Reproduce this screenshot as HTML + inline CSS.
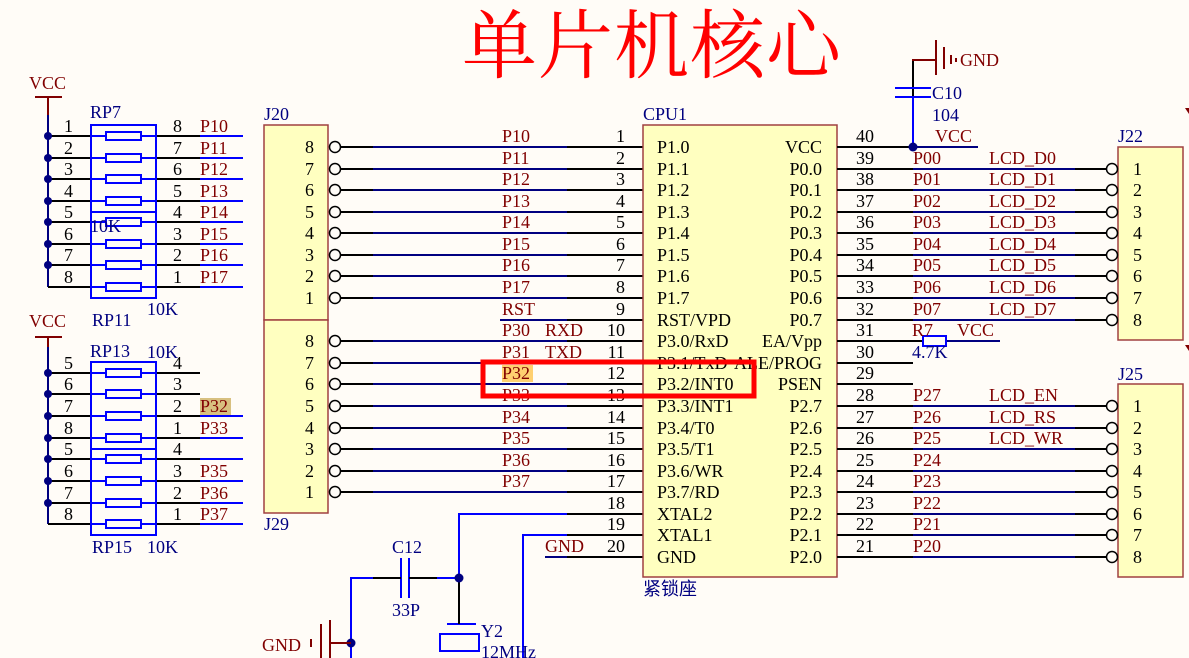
<!DOCTYPE html>
<html><head><meta charset="utf-8"><style>
html,body{margin:0;padding:0;background:#fffcf7}
svg{display:block}
text{font-family:"Liberation Serif","Noto Serif CJK SC",serif;font-size:18px}
.r{fill:#800000}.b{fill:#000080}.k{fill:#000}
.bl{stroke:#0000ff;stroke-width:2;fill:none}
.nv{stroke:#000080;stroke-width:2;fill:none}
.bk{stroke:#000;stroke-width:2;fill:none}
.rd{stroke:#800000;stroke-width:2;fill:none}
</style></head><body>
<svg width="1189" height="658" viewBox="0 0 1189 658" xmlns="http://www.w3.org/2000/svg">
<rect width="1189" height="658" fill="#fffcf7"/>
<text x="462" y="72" style="font-family:'Noto Serif CJK SC',serif;font-size:75px;fill:#ff0000;letter-spacing:1px">单片机核心</text>

<!-- RP7 network -->
<text x="29" y="89" class="r">VCC</text>
<line x1="35" y1="97" x2="62" y2="97" class="rd"/>
<line x1="48" y1="97" x2="48" y2="115" class="rd"/>
<line x1="48" y1="115" x2="48" y2="287" class="nv"/>
<g class="bk">
<line x1="48" y1="136" x2="200" y2="136"/><line x1="48" y1="158" x2="200" y2="158"/><line x1="48" y1="179" x2="200" y2="179"/><line x1="48" y1="201" x2="200" y2="201"/><line x1="48" y1="222" x2="200" y2="222"/><line x1="48" y1="244" x2="200" y2="244"/><line x1="48" y1="265" x2="200" y2="265"/><line x1="48" y1="287" x2="200" y2="287"/>
</g>
<g class="bl">
<line x1="200" y1="136" x2="243" y2="136"/><line x1="200" y1="158" x2="243" y2="158"/><line x1="200" y1="179" x2="243" y2="179"/><line x1="200" y1="201" x2="243" y2="201"/><line x1="200" y1="222" x2="243" y2="222"/><line x1="200" y1="244" x2="243" y2="244"/><line x1="200" y1="265" x2="243" y2="265"/><line x1="200" y1="287" x2="243" y2="287"/>
<rect x="91" y="125" width="65" height="173"/><line x1="91" y1="212" x2="156" y2="212"/>
<line x1="91" y1="136" x2="156" y2="136"/><line x1="91" y1="158" x2="156" y2="158"/><line x1="91" y1="179" x2="156" y2="179"/><line x1="91" y1="201" x2="156" y2="201"/><line x1="91" y1="222" x2="156" y2="222"/><line x1="91" y1="244" x2="156" y2="244"/><line x1="91" y1="265" x2="156" y2="265"/><line x1="91" y1="287" x2="156" y2="287"/>
</g>
<g fill="#fffcf7" stroke="#0000ff" stroke-width="2">
<rect x="106" y="132" width="35" height="8"/><rect x="106" y="154" width="35" height="8"/><rect x="106" y="175" width="35" height="8"/><rect x="106" y="197" width="35" height="8"/><rect x="106" y="218" width="35" height="8"/><rect x="106" y="240" width="35" height="8"/><rect x="106" y="261" width="35" height="8"/><rect x="106" y="283" width="35" height="8"/>
</g>
<g fill="#000080"><circle cx="48" cy="136" r="4"/><circle cx="48" cy="158" r="4"/><circle cx="48" cy="179" r="4"/><circle cx="48" cy="201" r="4"/><circle cx="48" cy="222" r="4"/><circle cx="48" cy="244" r="4"/><circle cx="48" cy="265" r="4"/></g>
<g class="k"><text x="64" y="132">1</text><text x="64" y="154">2</text><text x="64" y="175">3</text><text x="64" y="197">4</text><text x="64" y="218">5</text><text x="64" y="240">6</text><text x="64" y="261">7</text><text x="64" y="283">8</text>
<text x="173" y="132">8</text><text x="173" y="154">7</text><text x="173" y="175">6</text><text x="173" y="197">5</text><text x="173" y="218">4</text><text x="173" y="240">3</text><text x="173" y="261">2</text><text x="173" y="283">1</text></g>
<g class="r"><text x="200" y="132">P10</text><text x="200" y="154">P11</text><text x="200" y="175">P12</text><text x="200" y="197">P13</text><text x="200" y="218">P14</text><text x="200" y="240">P15</text><text x="200" y="261">P16</text><text x="200" y="283">P17</text></g>
<g class="b"><text x="90" y="118">RP7</text><text x="90" y="232">10K</text><text x="147" y="315">10K</text><text x="92" y="326">RP11</text></g>

<!-- RP13/RP15 network -->
<text x="29" y="327" class="r">VCC</text>
<line x1="35" y1="337" x2="62" y2="337" class="rd"/>
<line x1="48" y1="337" x2="48" y2="347" class="rd"/>
<line x1="48" y1="347" x2="48" y2="524" class="nv"/>
<g class="bk">
<line x1="48" y1="373" x2="200" y2="373"/><line x1="48" y1="394" x2="200" y2="394"/><line x1="48" y1="416" x2="200" y2="416"/><line x1="48" y1="438" x2="200" y2="438"/><line x1="48" y1="459" x2="200" y2="459"/><line x1="48" y1="481" x2="200" y2="481"/><line x1="48" y1="503" x2="200" y2="503"/><line x1="48" y1="524" x2="200" y2="524"/>
</g>
<g class="bl">
<line x1="200" y1="416" x2="243" y2="416"/><line x1="200" y1="438" x2="243" y2="438"/><line x1="200" y1="459" x2="243" y2="459"/><line x1="200" y1="481" x2="243" y2="481"/><line x1="200" y1="503" x2="243" y2="503"/><line x1="200" y1="524" x2="243" y2="524"/>
<rect x="91" y="362" width="65" height="173"/><line x1="91" y1="449" x2="156" y2="449"/>
<line x1="91" y1="373" x2="156" y2="373"/><line x1="91" y1="394" x2="156" y2="394"/><line x1="91" y1="416" x2="156" y2="416"/><line x1="91" y1="438" x2="156" y2="438"/><line x1="91" y1="459" x2="156" y2="459"/><line x1="91" y1="481" x2="156" y2="481"/><line x1="91" y1="503" x2="156" y2="503"/><line x1="91" y1="524" x2="156" y2="524"/>
</g>
<g fill="#fffcf7" stroke="#0000ff" stroke-width="2">
<rect x="106" y="369" width="35" height="8"/><rect x="106" y="390" width="35" height="8"/><rect x="106" y="412" width="35" height="8"/><rect x="106" y="434" width="35" height="8"/><rect x="106" y="455" width="35" height="8"/><rect x="106" y="477" width="35" height="8"/><rect x="106" y="499" width="35" height="8"/><rect x="106" y="520" width="35" height="8"/>
</g>
<g fill="#000080"><circle cx="48" cy="373" r="4"/><circle cx="48" cy="394" r="4"/><circle cx="48" cy="416" r="4"/><circle cx="48" cy="438" r="4"/><circle cx="48" cy="459" r="4"/><circle cx="48" cy="481" r="4"/><circle cx="48" cy="503" r="4"/></g>
<g class="k"><text x="64" y="369">5</text><text x="64" y="390">6</text><text x="64" y="412">7</text><text x="64" y="434">8</text><text x="64" y="455">5</text><text x="64" y="477">6</text><text x="64" y="499">7</text><text x="64" y="520">8</text>
<text x="173" y="369">4</text><text x="173" y="390">3</text><text x="173" y="412">2</text><text x="173" y="434">1</text><text x="173" y="455">4</text><text x="173" y="477">3</text><text x="173" y="499">2</text><text x="173" y="520">1</text></g>
<rect x="200" y="398" width="31" height="17" fill="#d8c080"/>
<g class="r"><text x="200" y="412">P32</text><text x="200" y="434">P33</text><text x="200" y="477">P35</text><text x="200" y="499">P36</text><text x="200" y="520">P37</text></g>
<g class="b"><text x="90" y="357">RP13</text><text x="147" y="358">10K</text><text x="92" y="553">RP15</text><text x="147" y="553">10K</text></g>

<!-- J20 / J29 -->
<rect x="264" y="125" width="64" height="195" fill="#ffffc0" stroke="#a04040" stroke-width="1.5"/>
<rect x="264" y="320" width="64" height="193" fill="#ffffc0" stroke="#a04040" stroke-width="1.5"/>
<text x="264" y="120" class="b">J20</text><text x="264" y="530" class="b">J29</text>
<g class="k" text-anchor="end">
<text x="314" y="153">8</text><text x="314" y="175">7</text><text x="314" y="196">6</text><text x="314" y="218">5</text><text x="314" y="239">4</text><text x="314" y="261">3</text><text x="314" y="282">2</text><text x="314" y="304">1</text>
<text x="314" y="347">8</text><text x="314" y="369">7</text><text x="314" y="390">6</text><text x="314" y="412">5</text><text x="314" y="434">4</text><text x="314" y="455">3</text><text x="314" y="477">2</text><text x="314" y="498">1</text>
</g>
<g class="bk">
<line x1="340" y1="147" x2="373" y2="147"/><line x1="340" y1="169" x2="373" y2="169"/><line x1="340" y1="190" x2="373" y2="190"/><line x1="340" y1="212" x2="373" y2="212"/><line x1="340" y1="233" x2="373" y2="233"/><line x1="340" y1="255" x2="373" y2="255"/><line x1="340" y1="276" x2="373" y2="276"/><line x1="340" y1="298" x2="373" y2="298"/>
<line x1="340" y1="341" x2="373" y2="341"/><line x1="340" y1="363" x2="373" y2="363"/><line x1="340" y1="384" x2="373" y2="384"/><line x1="340" y1="406" x2="373" y2="406"/><line x1="340" y1="428" x2="373" y2="428"/><line x1="340" y1="449" x2="373" y2="449"/><line x1="340" y1="471" x2="373" y2="471"/><line x1="340" y1="492" x2="373" y2="492"/>
</g>
<g class="nv">
<line x1="373" y1="147" x2="567" y2="147"/><line x1="373" y1="169" x2="567" y2="169"/><line x1="373" y1="190" x2="567" y2="190"/><line x1="373" y1="212" x2="567" y2="212"/><line x1="373" y1="233" x2="567" y2="233"/><line x1="373" y1="255" x2="567" y2="255"/><line x1="373" y1="276" x2="567" y2="276"/><line x1="373" y1="298" x2="567" y2="298"/>
<line x1="500" y1="320" x2="567" y2="320"/>
<line x1="373" y1="341" x2="567" y2="341"/><line x1="373" y1="363" x2="567" y2="363"/><line x1="373" y1="384" x2="567" y2="384"/><line x1="373" y1="406" x2="567" y2="406"/><line x1="373" y1="428" x2="567" y2="428"/><line x1="373" y1="449" x2="567" y2="449"/><line x1="373" y1="471" x2="567" y2="471"/><line x1="373" y1="492" x2="567" y2="492"/>
<line x1="545" y1="557" x2="567" y2="557"/>
</g>
<g class="bk">
<line x1="567" y1="147" x2="643" y2="147"/><line x1="567" y1="169" x2="643" y2="169"/><line x1="567" y1="190" x2="643" y2="190"/><line x1="567" y1="212" x2="643" y2="212"/><line x1="567" y1="233" x2="643" y2="233"/><line x1="567" y1="255" x2="643" y2="255"/><line x1="567" y1="276" x2="643" y2="276"/><line x1="567" y1="298" x2="643" y2="298"/><line x1="567" y1="320" x2="643" y2="320"/><line x1="567" y1="341" x2="643" y2="341"/><line x1="567" y1="363" x2="643" y2="363"/><line x1="567" y1="384" x2="643" y2="384"/><line x1="567" y1="406" x2="643" y2="406"/><line x1="567" y1="428" x2="643" y2="428"/><line x1="567" y1="449" x2="643" y2="449"/><line x1="567" y1="471" x2="643" y2="471"/><line x1="567" y1="492" x2="643" y2="492"/><line x1="567" y1="514" x2="643" y2="514"/><line x1="567" y1="535" x2="643" y2="535"/><line x1="567" y1="557" x2="643" y2="557"/>
</g>
<g fill="#fffcf7" stroke="#000" stroke-width="1.5">
<circle cx="335" cy="147" r="5.5"/><circle cx="335" cy="169" r="5.5"/><circle cx="335" cy="190" r="5.5"/><circle cx="335" cy="212" r="5.5"/><circle cx="335" cy="233" r="5.5"/><circle cx="335" cy="255" r="5.5"/><circle cx="335" cy="276" r="5.5"/><circle cx="335" cy="298" r="5.5"/>
<circle cx="335" cy="341" r="5.5"/><circle cx="335" cy="363" r="5.5"/><circle cx="335" cy="384" r="5.5"/><circle cx="335" cy="406" r="5.5"/><circle cx="335" cy="428" r="5.5"/><circle cx="335" cy="449" r="5.5"/><circle cx="335" cy="471" r="5.5"/><circle cx="335" cy="492" r="5.5"/>
</g>
<rect x="502" y="365" width="31" height="17" fill="#ffd070"/>
<g class="r">
<text x="502" y="142">P10</text><text x="502" y="164">P11</text><text x="502" y="185">P12</text><text x="502" y="207">P13</text><text x="502" y="228">P14</text><text x="502" y="250">P15</text><text x="502" y="271">P16</text><text x="502" y="293">P17</text><text x="502" y="315">RST</text>
<text x="502" y="336">P30</text><text x="545" y="336">RXD</text><text x="502" y="358">P31</text><text x="545" y="358">TXD</text><text x="502" y="379">P32</text><text x="502" y="401">P33</text>
<text x="502" y="423">P34</text><text x="502" y="444">P35</text><text x="502" y="466">P36</text><text x="502" y="487">P37</text><text x="545" y="552">GND</text>
</g>
<g class="k" text-anchor="end">
<text x="625" y="142">1</text><text x="625" y="164">2</text><text x="625" y="185">3</text><text x="625" y="207">4</text><text x="625" y="228">5</text><text x="625" y="250">6</text><text x="625" y="271">7</text><text x="625" y="293">8</text><text x="625" y="315">9</text><text x="625" y="336">10</text><text x="625" y="358">11</text><text x="625" y="379">12</text><text x="625" y="401">13</text><text x="625" y="423">14</text><text x="625" y="444">15</text><text x="625" y="466">16</text><text x="625" y="487">17</text><text x="625" y="509">18</text><text x="625" y="530">19</text><text x="625" y="552">20</text>
</g>

<!-- CPU -->
<rect x="643" y="125" width="194" height="452" fill="#ffffc0" stroke="#a04040" stroke-width="1.5"/>
<text x="643" y="120" class="b">CPU1</text>
<text x="643" y="595" class="b" style="font-family:'Noto Sans CJK SC',sans-serif;font-size:18px">紧锁座</text>
<g class="k" style="font-size:19px">
<text x="657" y="153">P1.0</text><text x="657" y="175">P1.1</text><text x="657" y="196">P1.2</text><text x="657" y="218">P1.3</text><text x="657" y="239">P1.4</text><text x="657" y="261">P1.5</text><text x="657" y="282">P1.6</text><text x="657" y="304">P1.7</text><text x="657" y="326">RST/VPD</text><text x="657" y="347">P3.0/RxD</text><text x="657" y="369">P3.1/TxD</text><text x="657" y="390">P3.2/INT0</text><text x="657" y="412">P3.3/INT1</text><text x="657" y="434">P3.4/T0</text><text x="657" y="455">P3.5/T1</text><text x="657" y="477">P3.6/WR</text><text x="657" y="498">P3.7/RD</text><text x="657" y="520">XTAL2</text><text x="657" y="541">XTAL1</text><text x="657" y="563">GND</text>
</g>
<g class="k" style="font-size:19px" text-anchor="end">
<text x="822" y="153">VCC</text><text x="822" y="175">P0.0</text><text x="822" y="196">P0.1</text><text x="822" y="218">P0.2</text><text x="822" y="239">P0.3</text><text x="822" y="261">P0.4</text><text x="822" y="282">P0.5</text><text x="822" y="304">P0.6</text><text x="822" y="326">P0.7</text><text x="822" y="347">EA/Vpp</text><text x="822" y="369">ALE/PROG</text><text x="822" y="390">PSEN</text><text x="822" y="412">P2.7</text><text x="822" y="434">P2.6</text><text x="822" y="455">P2.5</text><text x="822" y="477">P2.4</text><text x="822" y="498">P2.3</text><text x="822" y="520">P2.2</text><text x="822" y="541">P2.1</text><text x="822" y="563">P2.0</text>
</g>
<rect x="483" y="362" width="271" height="34" fill="none" stroke="#ff0000" stroke-width="5"/>

<!-- right side pins -->
<g class="bk">
<line x1="837" y1="147" x2="913" y2="147"/><line x1="837" y1="169" x2="913" y2="169"/><line x1="837" y1="190" x2="913" y2="190"/><line x1="837" y1="212" x2="913" y2="212"/><line x1="837" y1="233" x2="913" y2="233"/><line x1="837" y1="255" x2="913" y2="255"/><line x1="837" y1="276" x2="913" y2="276"/><line x1="837" y1="298" x2="913" y2="298"/><line x1="837" y1="320" x2="913" y2="320"/><line x1="837" y1="341" x2="923" y2="341"/><line x1="837" y1="363" x2="913" y2="363"/><line x1="837" y1="384" x2="913" y2="384"/><line x1="837" y1="406" x2="913" y2="406"/><line x1="837" y1="428" x2="913" y2="428"/><line x1="837" y1="449" x2="913" y2="449"/><line x1="837" y1="471" x2="913" y2="471"/><line x1="837" y1="492" x2="913" y2="492"/><line x1="837" y1="514" x2="913" y2="514"/><line x1="837" y1="535" x2="913" y2="535"/><line x1="837" y1="557" x2="913" y2="557"/>
<line x1="1075" y1="169" x2="1106" y2="169"/><line x1="1075" y1="190" x2="1106" y2="190"/><line x1="1075" y1="212" x2="1106" y2="212"/><line x1="1075" y1="233" x2="1106" y2="233"/><line x1="1075" y1="255" x2="1106" y2="255"/><line x1="1075" y1="276" x2="1106" y2="276"/><line x1="1075" y1="298" x2="1106" y2="298"/><line x1="1075" y1="320" x2="1106" y2="320"/>
<line x1="1075" y1="406" x2="1106" y2="406"/><line x1="1075" y1="428" x2="1106" y2="428"/><line x1="1075" y1="449" x2="1106" y2="449"/><line x1="1075" y1="471" x2="1106" y2="471"/><line x1="1075" y1="492" x2="1106" y2="492"/><line x1="1075" y1="514" x2="1106" y2="514"/><line x1="1075" y1="535" x2="1106" y2="535"/><line x1="1075" y1="557" x2="1106" y2="557"/>
<line x1="913" y1="82" x2="913" y2="115"/>
</g>
<g class="nv">
<line x1="913" y1="147" x2="978" y2="147"/>
<line x1="913" y1="169" x2="1075" y2="169"/><line x1="913" y1="190" x2="1075" y2="190"/><line x1="913" y1="212" x2="1075" y2="212"/><line x1="913" y1="233" x2="1075" y2="233"/><line x1="913" y1="255" x2="1075" y2="255"/><line x1="913" y1="276" x2="1075" y2="276"/><line x1="913" y1="298" x2="1075" y2="298"/><line x1="913" y1="320" x2="1075" y2="320"/>
<line x1="946" y1="341" x2="1000" y2="341"/>
<line x1="913" y1="406" x2="1075" y2="406"/><line x1="913" y1="428" x2="1075" y2="428"/><line x1="913" y1="449" x2="1075" y2="449"/><line x1="913" y1="471" x2="1075" y2="471"/><line x1="913" y1="492" x2="1075" y2="492"/><line x1="913" y1="514" x2="1075" y2="514"/><line x1="913" y1="535" x2="1075" y2="535"/><line x1="913" y1="557" x2="1075" y2="557"/>
</g>
<rect x="923" y="336" width="23" height="10" fill="#fffcf7" stroke="#0000ff" stroke-width="2"/>
<line x1="913" y1="115" x2="913" y2="147" class="bl"/>
<line x1="913" y1="97" x2="913" y2="115" class="bl"/>
<line x1="895" y1="88" x2="931" y2="88" class="bl"/><line x1="895" y1="97" x2="931" y2="97" class="bl"/>
<line x1="913" y1="60" x2="913" y2="82" class="bk"/>
<line x1="912" y1="60" x2="936" y2="60" class="rd"/>
<line x1="936" y1="40" x2="936" y2="75" class="rd"/><line x1="944" y1="47" x2="944" y2="69" class="rd"/><line x1="951" y1="55" x2="951" y2="64" class="rd"/>
<rect x="955" y="58" width="2" height="4" fill="#800000"/>
<text x="960" y="66" class="r">GND</text>
<circle cx="913" cy="147" r="4.5" fill="#000080"/>
<text x="932" y="99" class="b">C10</text><text x="932" y="121" class="b">104</text>
<text x="935" y="142" class="r">VCC</text>
<text x="912" y="336" class="r">R7</text><text x="957" y="336" class="r">VCC</text><text x="912" y="358" class="b">4.7K</text>
<g class="k" text-anchor="end">
<text x="874" y="142">40</text><text x="874" y="164">39</text><text x="874" y="185">38</text><text x="874" y="207">37</text><text x="874" y="228">36</text><text x="874" y="250">35</text><text x="874" y="271">34</text><text x="874" y="293">33</text><text x="874" y="315">32</text><text x="874" y="336">31</text><text x="874" y="358">30</text><text x="874" y="379">29</text><text x="874" y="401">28</text><text x="874" y="423">27</text><text x="874" y="444">26</text><text x="874" y="466">25</text><text x="874" y="487">24</text><text x="874" y="509">23</text><text x="874" y="530">22</text><text x="874" y="552">21</text>
</g>
<g class="r">
<text x="913" y="164">P00</text><text x="913" y="185">P01</text><text x="913" y="207">P02</text><text x="913" y="228">P03</text><text x="913" y="250">P04</text><text x="913" y="271">P05</text><text x="913" y="293">P06</text><text x="913" y="315">P07</text>
<text x="989" y="164">LCD_D0</text><text x="989" y="185">LCD_D1</text><text x="989" y="207">LCD_D2</text><text x="989" y="228">LCD_D3</text><text x="989" y="250">LCD_D4</text><text x="989" y="271">LCD_D5</text><text x="989" y="293">LCD_D6</text><text x="989" y="315">LCD_D7</text>
<text x="913" y="401">P27</text><text x="913" y="423">P26</text><text x="913" y="444">P25</text><text x="913" y="466">P24</text><text x="913" y="487">P23</text><text x="913" y="509">P22</text><text x="913" y="530">P21</text><text x="913" y="552">P20</text>
<text x="989" y="401">LCD_EN</text><text x="989" y="423">LCD_RS</text><text x="989" y="444">LCD_WR</text>
</g>
<rect x="1118" y="147" width="65" height="193" fill="#ffffc0" stroke="#a04040" stroke-width="1.5"/>
<rect x="1118" y="384" width="65" height="193" fill="#ffffc0" stroke="#a04040" stroke-width="1.5"/>
<text x="1118" y="142" class="b">J22</text><text x="1118" y="380" class="b">J25</text>
<g fill="#fffcf7" stroke="#000" stroke-width="1.5">
<circle cx="1112" cy="169" r="5.5"/><circle cx="1112" cy="190" r="5.5"/><circle cx="1112" cy="212" r="5.5"/><circle cx="1112" cy="233" r="5.5"/><circle cx="1112" cy="255" r="5.5"/><circle cx="1112" cy="276" r="5.5"/><circle cx="1112" cy="298" r="5.5"/><circle cx="1112" cy="320" r="5.5"/>
<circle cx="1112" cy="406" r="5.5"/><circle cx="1112" cy="428" r="5.5"/><circle cx="1112" cy="449" r="5.5"/><circle cx="1112" cy="471" r="5.5"/><circle cx="1112" cy="492" r="5.5"/><circle cx="1112" cy="514" r="5.5"/><circle cx="1112" cy="535" r="5.5"/><circle cx="1112" cy="557" r="5.5"/>
</g>
<g class="k">
<text x="1133" y="175">1</text><text x="1133" y="196">2</text><text x="1133" y="218">3</text><text x="1133" y="239">4</text><text x="1133" y="261">5</text><text x="1133" y="282">6</text><text x="1133" y="304">7</text><text x="1133" y="326">8</text>
<text x="1133" y="412">1</text><text x="1133" y="434">2</text><text x="1133" y="455">3</text><text x="1133" y="477">4</text><text x="1133" y="498">5</text><text x="1133" y="520">6</text><text x="1133" y="541">7</text><text x="1133" y="563">8</text>
</g>
<path d="M1185 108 L1189 108 L1189 114 Z M1185 345 L1189 345 L1189 351 Z" fill="#800000"/>

<g class="bl">
<polyline points="567,514 459,514 459,578"/>
<polyline points="567,535 523,535 523,658"/>
<polyline points="373,578 351,578 351,658"/>
<line x1="437" y1="578" x2="459" y2="578"/>
<line x1="401" y1="558" x2="401" y2="598"/><line x1="409" y1="558" x2="409" y2="598"/>
<line x1="447" y1="624" x2="476" y2="624"/>
<rect x="440" y="634" width="39" height="17"/>
</g>
<g class="bk">
<line x1="373" y1="578" x2="401" y2="578"/><line x1="409" y1="578" x2="437" y2="578"/>
<line x1="459" y1="578" x2="459" y2="624"/>
</g>
<circle cx="459" cy="578" r="4.5" fill="#000080"/>
<circle cx="351" cy="643" r="4.5" fill="#000080"/>
<line x1="330" y1="643" x2="351" y2="643" class="rd"/>
<line x1="330" y1="620" x2="330" y2="658" class="rd"/><line x1="321" y1="624" x2="321" y2="658" class="rd"/><line x1="311" y1="639" x2="311" y2="647" class="rd"/>
<text x="262" y="651" class="r">GND</text>
<g class="b"><text x="392" y="553">C12</text><text x="392" y="616">33P</text><text x="481" y="637">Y2</text><text x="481" y="658">12MHz</text></g>
</svg>
</body></html>
